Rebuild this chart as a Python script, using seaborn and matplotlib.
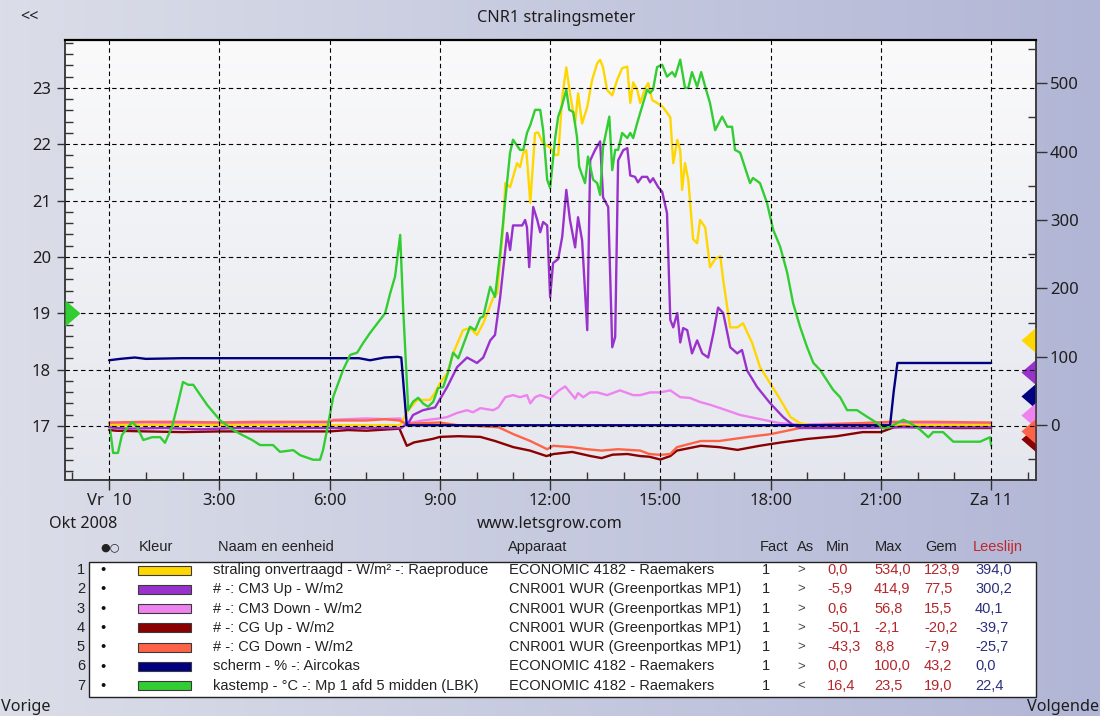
import numpy as np
import pandas as pd
import matplotlib
matplotlib.use("Agg")
import matplotlib.pyplot as plt
from matplotlib.path import Path
from matplotlib.patches import Rectangle
from matplotlib.transforms import blended_transform_factory
import seaborn as sns

# ---------------- data (hours since midnight) ----------------
straling_t = [0, 2, 4, 6, 7, 7.92, 8.14, 8.38, 8.73, 8.86, 9.0, 9.2, 9.36, 9.63, 9.82, 10.01, 10.18,
              10.45, 10.56, 10.72, 10.78, 10.91, 11.1, 11.18, 11.27, 11.35, 11.38, 11.46, 11.59, 11.67,
              11.81, 12.0, 12.14, 12.22, 12.33, 12.44, 12.54, 12.68, 12.76, 12.87, 13.01, 13.14, 13.28,
              13.36, 13.44, 13.55, 13.69, 13.82, 13.96, 14.1, 14.18, 14.26, 14.37, 14.45, 14.59, 14.67,
              14.78, 14.91, 15.07, 15.27, 15.35, 15.46, 15.54, 15.59, 15.67, 15.76, 15.89, 16.0, 16.08,
              16.22, 16.35, 16.49, 16.63, 16.71, 16.9, 17.09, 17.25, 17.5, 17.71, 17.99, 18.27, 18.54,
              18.8, 19.07, 20, 22, 24]
straling_v = [0, 0, 0, 0, 0, 0, 22, 37, 37, 47, 61, 76, 105, 139, 142, 132, 149, 186, 193, 289, 354,
              348, 383, 377, 398, 402, 383, 325, 427, 428, 412, 406, 395, 395, 480, 523, 485, 441, 485,
              441, 465, 504, 529, 534, 523, 490, 482, 504, 522, 524, 471, 501, 490, 471, 493, 500, 475,
              471, 465, 450, 383, 417, 402, 344, 383, 358, 272, 266, 300, 289, 231, 243, 247, 212, 143,
              143, 149, 120, 85, 61, 37, 12, 3, 0, 0, 0, 0]

cm3up_t = [0, 0.5, 1.5, 2.5, 3.5, 4.5, 5.5, 6.5, 7.5, 7.95, 8.05, 8.14, 8.27, 8.54, 8.87, 9.2, 9.47,
           9.74, 10.01, 10.18, 10.37, 10.5, 10.64, 10.83, 10.91, 10.99, 11.24, 11.32, 11.37, 11.43,
           11.54, 11.65, 11.73, 11.81, 11.92, 12.0, 12.08, 12.22, 12.33, 12.44, 12.54, 12.68, 12.76,
           12.87, 13.01, 13.09, 13.22, 13.36, 13.44, 13.58, 13.69, 13.77, 13.85, 13.99, 14.1, 14.18,
           14.31, 14.39, 14.5, 14.64, 14.72, 14.8, 14.94, 15.05, 15.18, 15.27, 15.35, 15.46, 15.54,
           15.62, 15.73, 15.86, 16.0, 16.14, 16.3, 16.44, 16.57, 16.71, 16.9, 17.09, 17.22, 17.36,
           17.63, 17.99, 18.34, 18.61, 18.8, 19.5, 20.5, 21.3, 22, 23, 24]
cm3up_v = [-3, -5, -4, -5.9, -4, -5, -4, -4, -4, -4, 0, 3, 15, 22, 26, 56, 85, 99, 91, 99, 124, 132,
           187, 281, 256, 292, 292, 300, 289, 231, 319, 300, 282, 297, 292, 187, 237, 243, 276, 344,
           300, 260, 304, 270, 139, 387, 402, 414.9, 333, 319, 114, 129, 387, 402, 405, 365, 363, 355,
           363, 363, 355, 361, 348, 341, 310, 154, 143, 164, 121, 142, 139, 105, 124, 105, 99, 134,
           172, 164, 114, 105, 110, 80, 56, 32, 12, 0, -4, -4, -4, -3, -3, -3, -3]

cm3down_t = [0, 1, 2, 3, 4, 5, 5.95, 6.1, 6.5, 7.0, 7.5, 7.92, 8.05, 8.14, 8.54, 9.0, 9.2, 9.47, 9.74,
             9.9, 10.1, 10.45, 10.59, 10.78, 10.99, 11.18, 11.37, 11.46, 11.59, 11.73, 12.0, 12.22,
             12.41, 12.68, 12.76, 12.9, 13.09, 13.28, 13.55, 13.9, 14.26, 14.45, 14.72, 14.99, 15.27,
             15.54, 15.8, 16.08, 16.35, 16.63, 16.9, 17.17, 17.44, 17.71, 18.26, 18.8, 19.5, 20.5,
             21.5, 22.5, 24]
cm3down_v = [3, 4, 3, 4, 3, 4, 4, 8, 9, 10, 9, 10, 0.6, 3, 7, 10, 12, 18, 22, 19, 25, 22, 26, 41, 44,
             41, 44, 32, 41, 44, 39, 50, 56.8, 39, 47, 41, 48, 48, 44, 51, 44, 44, 48, 48, 51, 41, 40,
             34, 30, 25, 20, 15, 12, 9, 3, 1, 2, 3, 4, 3, 3]

cgup_t = [0, 0.2, 1, 2, 3, 4, 5, 6, 6.5, 7, 7.9, 8.1, 8.3, 8.8, 9.0, 9.5, 10.1, 10.5, 11.0, 11.45,
          11.9, 12.1, 12.6, 13.1, 13.4, 13.7, 14.1, 14.45, 14.7, 15.0, 15.27, 15.45, 16.1, 16.6, 17.1,
          17.7, 18.3, 19.0, 19.8, 20.5, 21.0, 21.35, 21.6, 22, 23, 24]
cgup_v = [-7, -8, -9, -10, -9, -9, -9, -9, -7, -8, -5, -30, -25, -20, -17, -16, -17, -23, -32, -37,
          -45, -42, -39, -45, -48, -43, -42, -45, -46, -50.1, -45, -37, -30, -32, -36, -30, -25, -20,
          -16, -10, -10, -3, -2.1, -3, -4, -4]

cgdown_t = [0, 1, 2, 3, 4, 5, 5.95, 6.1, 7.0, 7.5, 7.9, 8.1, 8.5, 9.0, 9.5, 10.0, 10.6, 11.0, 11.46,
            11.92, 12.08, 12.6, 13.0, 13.4, 13.85, 14.45, 14.7, 15.0, 15.27, 15.45, 16.1, 16.6, 17.4,
            18.0, 18.8, 19.5, 20.4, 21.3, 22.4, 24]
cgdown_v = [4, 5, 5, 4, 5, 5, 5, 7, 7, 8.8, 7, 2, 3, 4, 0, -1, -3, -13, -23, -35, -30, -32, -35, -37,
            -35, -37, -42, -43.3, -42, -32, -23, -23, -17, -13, -4, 1, 3, 5, 5, 4]

scherm_t = [0, 0.3, 0.7, 1.0, 2, 3, 4, 5, 6, 6.8, 7.1, 7.5, 7.85, 7.95, 8.1, 10, 14, 18, 21.25,
            21.35, 21.45, 22, 24]
scherm_v = [95, 97, 99, 97, 98, 98, 98, 98, 98, 98, 95, 99, 100, 99, 0, 0, 0, 0, 0, 50, 91, 91, 91]

kastemp_t = [0.03, 0.11, 0.24, 0.35, 0.49, 0.63, 0.76, 0.93, 1.17, 1.39, 1.52, 1.71, 1.85, 2.01, 2.15,
             2.29, 2.48, 2.67, 3.02, 3.37, 3.62, 3.89, 4.11, 4.46, 4.65, 5.01, 5.2, 5.55, 5.74, 5.82,
             5.93, 6.1, 6.37, 6.56, 6.75, 6.91, 7.1, 7.37, 7.51, 7.65, 7.78, 7.92, 8.0, 8.14, 8.27,
             8.41, 8.54, 8.68, 8.82, 8.95, 9.09, 9.22, 9.36, 9.5, 9.69, 9.82, 9.96, 10.1, 10.18, 10.37,
             10.5, 10.64, 10.78, 10.91, 10.99, 11.18, 11.27, 11.37, 11.46, 11.59, 11.73, 11.81, 11.92,
             12.0, 12.14, 12.22, 12.33, 12.44, 12.52, 12.63, 12.73, 12.79, 12.95, 13.03, 13.17, 13.28,
             13.36, 13.44, 13.61, 13.69, 13.77, 13.85, 13.96, 14.1, 14.18, 14.26, 14.37, 14.53, 14.64,
             14.72, 14.8, 14.91, 15.05, 15.18, 15.32, 15.4, 15.54, 15.67, 15.76, 15.86, 16.0, 16.11,
             16.22, 16.35, 16.49, 16.68, 16.82, 16.95, 17.03, 17.17, 17.25, 17.44, 17.52, 17.71, 17.9,
             18.07, 18.26, 18.45, 18.61, 18.8, 18.99, 19.16, 19.35, 19.7, 19.89, 20.08, 20.35, 20.63,
             20.9, 21.06, 21.25, 21.44, 21.61, 21.8, 22.07, 22.29, 22.42, 22.69, 22.97, 23.7, 23.97, 24.0]
kastemp_v = [16.93, 16.52, 16.52, 16.84, 16.96, 17.07, 16.98, 16.75, 16.8, 16.8, 16.7, 16.98, 17.34,
             17.78, 17.73, 17.73, 17.55, 17.37, 17.1, 16.93, 16.84, 16.75, 16.66, 16.66, 16.54, 16.57,
             16.48, 16.4, 16.4, 16.57, 16.93, 17.52, 18.0, 18.26, 18.3, 18.47, 18.65, 18.88, 19.0,
             19.36, 19.65, 20.39, 19.1, 17.28, 17.43, 17.5, 17.4, 17.34, 17.43, 17.67, 17.69, 17.94,
             18.3, 18.2, 18.53, 18.76, 18.7, 18.92, 18.94, 19.47, 19.29, 20.07, 21.01, 21.85, 22.08,
             21.9, 21.9, 22.2, 22.34, 22.61, 22.61, 22.25, 21.37, 21.22, 22.13, 22.49, 22.7, 22.97,
             22.61, 22.57, 22.13, 21.6, 21.31, 21.78, 21.37, 21.31, 21.1, 21.95, 22.49, 21.54, 21.9,
             21.9, 22.2, 22.11, 22.2, 22.11, 22.38, 22.73, 22.97, 22.91, 22.97, 23.37, 23.41, 23.2,
             23.28, 23.2, 23.5, 23.0, 23.0, 23.28, 23.02, 23.28, 23.02, 22.73, 22.25, 22.49, 22.31,
             22.31, 21.9, 21.85, 21.69, 21.31, 21.4, 21.31, 20.96, 20.48, 20.18, 19.72, 19.18, 18.76,
             18.4, 18.12, 17.99, 17.64, 17.51, 17.28, 17.28, 17.16, 17.05, 16.96, 16.98, 17.05, 17.11,
             17.05, 16.93, 16.8, 16.89, 16.89, 16.72, 16.72, 16.8, 16.65]

# legend / statistics table
namen = ["straling onvertraagd - W/m² -: Raeproduce", "# -: CM3 Up - W/m2", "# -: CM3 Down - W/m2",
         "# -: CG Up - W/m2", "# -: CG Down - W/m2", "scherm - % -: Aircokas",
         "kastemp - °C -: Mp 1 afd 5 midden (LBK)"]
apparaten = ["ECONOMIC 4182 - Raemakers", "CNR001 WUR (Greenportkas MP1)",
             "CNR001 WUR (Greenportkas MP1)", "CNR001 WUR (Greenportkas MP1)",
             "CNR001 WUR (Greenportkas MP1)", "ECONOMIC 4182 - Raemakers",
             "ECONOMIC 4182 - Raemakers"]
factoren = [1, 1, 1, 1, 1, 1, 1]
assen = [">", ">", ">", ">", ">", ">", "<"]
minima = [0.0, -5.9, 0.6, -50.1, -43.3, 0.0, 16.4]
maxima = [534.0, 414.9, 56.8, -2.1, 8.8, 100.0, 23.5]
gemiddelden = [123.9, 77.5, 15.5, -20.2, -7.9, 43.2, 19.0]
leeslijn = [394.0, 300.2, 40.1, -39.7, -25.7, 0.0, 22.4]
kleuren = ["#ffd700", "#9932cc", "#ee82ee", "#8b0000", "#ff6347", "#000080", "#32cd32"]

uur_ticks = [0, 3, 6, 9, 12, 15, 18, 21, 24]
uur_labels = ["Vr  10", "3:00", "6:00", "9:00", "12:00", "15:00", "18:00", "21:00", "Za 11"]
temp_ticks = [17, 18, 19, 20, 21, 22, 23]
wm2_ticks = [0, 100, 200, 300, 400, 500]

# ---------------- figure ----------------
sns.set_theme(style="white")
plt.rcParams["font.family"] = ["Noto Sans", "DejaVu Sans"]
plt.rcParams["axes.unicode_minus"] = False

W, H = 1100, 716
fig = plt.figure(figsize=(W / 100, H / 100), dpi=100)


def fx(x):
    return x / W


def fy(y):
    return 1 - y / H


# window background and plot-area shading
bg = fig.add_axes([0, 0, 1, 1], zorder=-5)
gx = np.linspace(0, 1, 256)
left_c = np.array([219, 222, 232]) / 255
right_c = np.array([178, 182, 214]) / 255
grad = (left_c[None, :] * (1 - gx[:, None]) + right_c[None, :] * gx[:, None])[None, :, :]
bg.imshow(grad, aspect="auto", extent=[0, 1, 0, 1], interpolation="bilinear")
gy = np.linspace(0, 1, 256)
top_c = np.array([250, 250, 251]) / 255
bot_c = np.array([229, 231, 238]) / 255
pgrad = (top_c[None, :] * (1 - gy[:, None]) + bot_c[None, :] * gy[:, None])[:, None, :]
x0, x1, y0, y1 = fx(65), fx(1036), fy(480), fy(40)
bg.imshow(pgrad, aspect="auto", extent=[x0, x1, y0, y1], interpolation="bilinear")
bg.set_xlim(0, 1)
bg.set_ylim(0, 1)
bg.axis("off")

ax = fig.add_axes([x0, y0, x1 - x0, y1 - y0])
ax2 = ax.twinx()
ax.set_zorder(ax2.get_zorder() + 1)
ax.patch.set_visible(False)
ax2.patch.set_visible(False)

# radiation and screen series on the right axis
reeksen = [("straling", straling_t, straling_v, kleuren[0]),
           ("cm3up", cm3up_t, cm3up_v, kleuren[1]),
           ("cm3down", cm3down_t, cm3down_v, kleuren[2]),
           ("cgup", cgup_t, cgup_v, kleuren[3]),
           ("cgdown", cgdown_t, cgdown_v, kleuren[4]),
           ("scherm", scherm_t, scherm_v, kleuren[5])]
rad = pd.concat([pd.DataFrame({"uur": t, "waarde": v, "reeks": n}) for n, t, v, _ in reeksen],
                ignore_index=True)
volgorde = ["cm3down", "straling", "cgup", "cgdown", "cm3up", "scherm"]
palet = {n: c for n, _, _, c in reeksen}
sns.lineplot(data=rad, x="uur", y="waarde", hue="reeks", hue_order=volgorde, palette=palet,
             estimator=None, errorbar=None, sort=False, linewidth=1.7, legend=False, ax=ax2)

# greenhouse temperature on the left axis
temp = pd.DataFrame({"uur": kastemp_t, "temp": kastemp_v})
sns.lineplot(data=temp, x="uur", y="temp", color=kleuren[6], estimator=None, errorbar=None,
             sort=False, linewidth=1.7, ax=ax)

ax.set_xlim(-1.2, 25.22)
ax.set_ylim(16.04, 23.85)
ax2.set_ylim(-80, 563)
ax.set_xlabel("")
ax.set_ylabel("")
ax2.set_xlabel("")
ax2.set_ylabel("")

# ticks
tick_col = "#1e1e1e"
lab_fs = 12
ax.set_xticks(uur_ticks)
ax.set_xticklabels(uur_labels)
ax.set_xticks(np.arange(-1, 26, 1), minor=True)
ax.set_yticks(temp_ticks)
ax.set_yticklabels([str(t) for t in temp_ticks])
ax.set_yticks(np.arange(16.2, 23.85, 0.2), minor=True)
ax2.set_yticks(wm2_ticks)
ax2.set_yticklabels([str(t) for t in wm2_ticks])
ax2.set_yticks(np.arange(-50, 560, 100), minor=True)

ax.tick_params(axis="x", which="major", direction="out", length=7.5, width=1, color="#333333",
               pad=2, labelsize=lab_fs, labelcolor=tick_col, bottom=True)
ax.tick_params(axis="x", which="minor", direction="in", length=5.5, width=1, color="#333333",
               bottom=True)
ax.tick_params(axis="y", which="major", direction="out", length=6, width=1, color="#333333",
               pad=4, labelsize=lab_fs, labelcolor=tick_col, left=True)
ax.tick_params(axis="y", which="minor", direction="in", length=5.5, width=1, color="#333333",
               left=True)
ax2.tick_params(axis="y", which="major", direction="out", length=8, width=1, color="#333333",
                pad=2, labelsize=lab_fs, labelcolor=tick_col, right=True)
ax2.tick_params(axis="y", which="minor", direction="in", length=6, width=1, color="#333333",
                right=True)

# dashed grid on top of the traces
ax.grid(True, which="major", axis="both", color="black", linestyle=(0, (4, 3)), linewidth=0.8)
ax.set_axisbelow(False)

for a in (ax, ax2):
    for side, sp in a.spines.items():
        sp.set_color("#3a3a3a")
        sp.set_linewidth(1.1)
ax.spines["top"].set_color("black")
ax.spines["top"].set_linewidth(1.6)

# average markers on the axes (triangles with their base on the spine)
pijl_links = Path([(0, 0.5), (-0.58, 0), (0, -0.5), (0, 0.5)],
                  [Path.MOVETO, Path.LINETO, Path.LINETO, Path.CLOSEPOLY])
pijl_rechts = Path([(0, 0.5), (0.58, 0), (0, -0.5), (0, 0.5)],
                   [Path.MOVETO, Path.LINETO, Path.LINETO, Path.CLOSEPOLY])
trans_r = blended_transform_factory(ax2.transAxes, ax2.transData)
for i in [0, 1, 5, 2, 3, 4]:
    ax2.plot([1.0], [gemiddelden[i]], marker=pijl_links, ms=21.7, mew=0, color=kleuren[i],
             transform=trans_r, clip_on=False, zorder=5)
trans_l = blended_transform_factory(ax.transAxes, ax.transData)
ax.plot([0.0], [gemiddelden[6]], marker=pijl_rechts, ms=21.7, mew=0, color=kleuren[6],
        transform=trans_l, clip_on=False, zorder=5)

# ---------------- surrounding texts ----------------
txt_fs = 11.7
fig.text(fx(556), fy(18), "CNR1 stralingsmeter", ha="center", va="center", fontsize=txt_fs,
         color=tick_col)
fig.text(fx(20), fy(17), "<<", ha="left", va="center", fontsize=txt_fs, color=tick_col)
fig.text(fx(49), fy(524), "Okt 2008", ha="left", va="center", fontsize=txt_fs, color=tick_col)
fig.text(fx(550), fy(524), "www.letsgrow.com", ha="center", va="center", fontsize=txt_fs,
         color=tick_col)
fig.text(fx(1), fy(707), "Vorige", ha="left", va="center", fontsize=txt_fs, color=tick_col)
fig.text(fx(1099), fy(707), "Volgende", ha="right", va="center", fontsize=txt_fs, color=tick_col)

# ---------------- legend / statistics table ----------------
tab_font = ["Liberation Sans", "DejaVu Sans"]
tfs = 10.5
fig.add_artist(Rectangle((fx(89), fy(697)), fx(1036) - fx(89), fy(562) - fy(697),
                         transform=fig.transFigure, facecolor="white", edgecolor="#222222",
                         linewidth=1.0, zorder=1))

kop_y = 547
koppen = [("●○", 100, "#222222"), ("Kleur", 139, "#222222"), ("Naam en eenheid", 218, "#222222"),
          ("Apparaat", 508, "#222222"), ("Fact", 760, "#222222"), ("As", 797, "#222222"),
          ("Min", 826, "#222222"), ("Max", 875, "#222222"), ("Gem", 925, "#222222"),
          ("Leeslijn", 973, "#c0272d")]
for txt, x, c in koppen:
    fs = 8 if txt == "●○" else tfs
    fig.text(fx(x), fy(kop_y), txt, ha="left", va="center", fontsize=fs, color=c,
             family=["DejaVu Sans"] if txt == "●○" else tab_font)


def nl(v):
    return f"{v:.1f}".replace(".", ",")


rood = "#b3262a"
blauw = "#2b2f7e"
for i in range(len(namen)):
    y = 570 + 19.3 * i
    fig.text(fx(85), fy(y), str(i + 1), ha="right", va="center", fontsize=tfs, color="#222222",
             family=tab_font, zorder=3)
    fig.text(fx(103), fy(y), "•", ha="center", va="center", fontsize=tfs, color="#111111",
             family=tab_font, zorder=3)
    fig.add_artist(Rectangle((fx(138), fy(y + 4.5)), fx(191) - fx(138), fy(y - 4.5) - fy(y + 4.5),
                             transform=fig.transFigure, facecolor=kleuren[i], edgecolor="#3a3a3a",
                             linewidth=0.8, zorder=3))
    fig.text(fx(213), fy(y), namen[i], ha="left", va="center", fontsize=tfs, color="#222222",
             family=tab_font, zorder=3)
    fig.text(fx(509), fy(y), apparaten[i], ha="left", va="center", fontsize=tfs, color="#222222",
             family=tab_font, zorder=3)
    fig.text(fx(762), fy(y), str(factoren[i]), ha="left", va="center", fontsize=tfs,
             color="#222222", family=tab_font, zorder=3)
    fig.text(fx(797), fy(y), assen[i], ha="left", va="center", fontsize=tfs - 1, color="#444444",
             family=tab_font, zorder=3)
    fig.text(fx(827), fy(y), nl(minima[i]), ha="left", va="center", fontsize=tfs, color=rood,
             family=tab_font, zorder=3)
    fig.text(fx(874), fy(y), nl(maxima[i]), ha="left", va="center", fontsize=tfs, color=rood,
             family=tab_font, zorder=3)
    fig.text(fx(924), fy(y), nl(gemiddelden[i]), ha="left", va="center", fontsize=tfs, color=rood,
             family=tab_font, zorder=3)
    fig.text(fx(975), fy(y), nl(leeslijn[i]), ha="left", va="center", fontsize=tfs, color=blauw,
             family=tab_font, zorder=3)

fig.savefig("out.png", dpi=100)
